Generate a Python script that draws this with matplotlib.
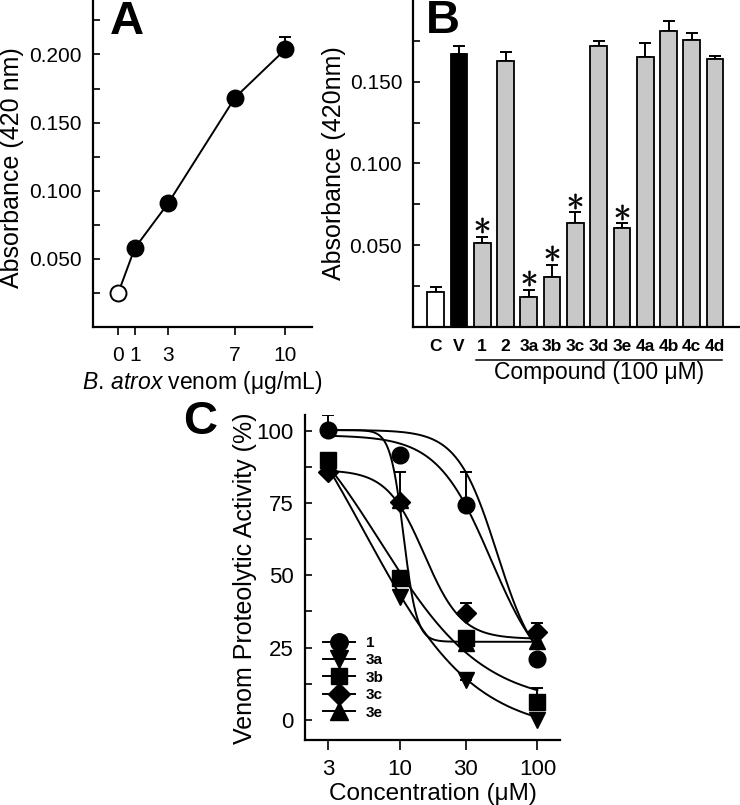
import numpy as np
import matplotlib
matplotlib.use('Agg')
import matplotlib.pyplot as plt
from matplotlib.lines import Line2D
from matplotlib.transforms import blended_transform_factory

plt.rcParams['font.family'] = ['Liberation Sans', 'DejaVu Sans']
plt.rcParams['mathtext.fontset'] = 'custom'
plt.rcParams['mathtext.rm'] = 'Liberation Sans'
plt.rcParams['mathtext.it'] = 'Liberation Sans:italic'
plt.rcParams['mathtext.bf'] = 'Liberation Sans:bold'

# ---------------- data ----------------
# Panel A
venom_dose = [0, 1, 3, 7, 10]
venom_abs = [0.0247, 0.0579, 0.0909, 0.1684, 0.2037]
venom_err = [0.0, 0.0, 0.0, 0.0, 0.009]
venom_is_control = [True, False, False, False, False]

# Panel B
groups = ['C', 'V', '1', '2', '3a', '3b', '3c', '3d', '3e', '4a', '4b', '4c', '4d']
group_abs = [0.0210, 0.1667, 0.0512, 0.1628, 0.0184, 0.0306, 0.0632,
             0.1718, 0.0602, 0.1652, 0.1812, 0.1758, 0.1638]
group_err = [0.0035, 0.0051, 0.0039, 0.0056, 0.0040, 0.0071, 0.0068,
             0.0031, 0.0030, 0.0082, 0.0059, 0.0037, 0.0021]
group_sig = [False, False, True, False, True, True, True, False, True,
             False, False, False, False]

# Panel C
conc = [3, 10, 30, 100]
act_1 = [100.2, 91.6, 74.3, 21.0]
err_1 = [5.3, 0.0, 11.3, 0.0]
act_3a = [87.0, 42.6, 13.8, 0.0]
err_3a = [0.0, 0.0, 2.3, 0.0]
act_3b = [89.9, 49.0, 28.2, 6.3]
err_3b = [0.0, 0.0, 0.0, 4.7]
act_3c = [85.9, 75.5, 36.9, 30.5]
err_3c = [0.0, 10.4, 3.4, 2.9]
act_3e = [88.0, 76.0, 26.5, 27.1]
err_3e = [0.0, 0.0, 0.0, 0.0]

# fitted 4-parameter logistic curves: top, bottom, IC50, Hill
fit_names = ['1', '1b', '3a', '3b', '3c', '3e']
fit_top = [98.5, 100.3, 135.0, 118.0, 86.5, 100.3]
fit_bottom = [12.0, 15.0, -5.0, 5.0, 28.0, 27.0]
fit_ic50 = [46.1, 50.9, 5.5, 7.2, 15.0, 10.6]
fit_hill = [2.2, 3.0, 1.08, 1.15, 3.2, 9.0]

# ---------------- figure ----------------
W, H = 740, 805
fig = plt.figure(figsize=(W / 100, H / 100), dpi=100)


def ax_px(l, t, r, b):
    return fig.add_axes([l / W, 1 - b / H, (r - l) / W, (b - t) / H])


def style_axes(ax):
    for s in ['top', 'right']:
        ax.spines[s].set_visible(False)
    for s in ['left', 'bottom']:
        ax.spines[s].set_linewidth(1.6)


TICK_FS = 15
LABEL_FS = 18
LETTER_FS = 34

# ---------- Panel A ----------
axA = ax_px(93, 0, 312, 327)
style_axes(axA)
axA.plot(venom_dose, venom_abs, color='k', lw=1.4, zorder=2)
axA.errorbar(venom_dose, venom_abs, yerr=[np.zeros(len(venom_err)), venom_err],
             fmt='none', ecolor='k', elinewidth=1.4, capsize=4.5, capthick=1.4, zorder=1)
for x, y, ctrl in zip(venom_dose, venom_abs, venom_is_control):
    axA.plot(x, y, 'o', ms=11.5, mfc='white' if ctrl else 'black', mec='k',
             mew=1.4, zorder=3)
axA.set_xlim(-1.5, 11.6)
axA.set_ylim(0, 0.24)
axA.set_xticks(venom_dose)
axA.set_xticklabels([str(v) for v in venom_dose])
axA.set_yticks([0.05, 0.10, 0.15, 0.20])
axA.set_yticklabels(['0.050', '0.100', '0.150', '0.200'])
axA.set_yticks([0.025, 0.075, 0.125, 0.175, 0.225], minor=True)
axA.tick_params(axis='y', which='both', direction='in', length=5, width=1.2,
                labelsize=TICK_FS, pad=8)
axA.tick_params(axis='x', direction='out', length=6, width=1.2,
                labelsize=TICK_FS, pad=8)
axA.set_ylabel('Absorbance (420 nm)', fontsize=LABEL_FS, va='center')
axA.yaxis.set_label_coords(-0.37, 0.486)
axA.set_xlabel(r'$\mathit{B.\,atrox}$ venom (μg/mL)', fontsize=16.5, va='center')
axA.xaxis.set_label_coords(0.498, -0.171)
fig.text(127 / W, 1 - 22 / H, 'A', fontsize=LETTER_FS, fontweight='bold',
         ha='center', va='center')

# ---------- Panel B ----------
axB = ax_px(413.3, 0, 740, 326.7)
style_axes(axB)
xb = np.arange(len(groups))
bar_colors = ['white', 'black'] + ['#c8c8c8'] * (len(groups) - 2)
axB.bar(xb, group_abs, width=0.72, color=bar_colors, edgecolor='k', linewidth=1.3, zorder=2)
axB.errorbar(xb, group_abs, yerr=[np.zeros(len(group_err)), group_err], fmt='none',
             ecolor='k', elinewidth=1.4, capsize=4, capthick=1.4, zorder=1)
sig_x = [i for i, s in enumerate(group_sig) if s]
sig_y = [group_abs[i] + group_err[i] + 0.0072 for i in sig_x]
axB.plot(sig_x, sig_y, linestyle='none', marker=r'$\ast$', ms=11, color='k', mew=0.4)
axB.set_xlim(-0.96, 13.07)
axB.set_ylim(0, 0.2)
axB.set_xticks(xb)
axB.set_xticklabels(groups, fontweight='bold', fontsize=12.5)
axB.tick_params(axis='x', length=0, pad=9)
axB.set_yticks([0.05, 0.10, 0.15])
axB.set_yticklabels(['0.050', '0.100', '0.150'])
axB.set_yticks([0.025, 0.075, 0.125, 0.175], minor=True)
axB.tick_params(axis='y', which='both', direction='in', length=5, width=1.2,
                labelsize=TICK_FS, pad=8)
axB.set_ylabel('Absorbance (420nm)', fontsize=LABEL_FS, va='center')
axB.yaxis.set_label_coords(-0.243, 0.501)
trB = blended_transform_factory(axB.transData, axB.transAxes)
axB.plot([1.72, 12.28], [-0.102, -0.102], transform=trB, color='k', lw=1.1, clip_on=False)
axB.text(0.568, -0.139, 'Compound (100 μM)', transform=axB.transAxes, ha='center',
         va='center', fontsize=16.5)
fig.text(443 / W, 1 - 21 / H, 'B', fontsize=LETTER_FS, fontweight='bold',
         ha='center', va='center')

# ---------- Panel C ----------
axC = ax_px(305, 415, 560, 740)
style_axes(axC)
axC.set_xscale('log')
xs = np.logspace(np.log10(3), np.log10(100), 300)
for top, bot, ic, h in zip(fit_top, fit_bottom, fit_ic50, fit_hill):
    axC.plot(xs, bot + (top - bot) / (1 + (xs / ic) ** h), color='k', lw=1.4, zorder=2)

series = [
    ('3e', act_3e, err_3e, '^'),
    ('3a', act_3a, err_3a, 'v'),
    ('1', act_1, err_1, 'o'),
    ('3b', act_3b, err_3b, 's'),
    ('3c', act_3c, err_3c, 'D'),
]
msizes = {'o': 12, 'v': 12, 's': 11, 'D': 10.5, '^': 12}
handles = {}
for z, (name, vals, errs, mk) in enumerate(series):
    ex = [c for c, e in zip(conc, errs) if e > 0]
    ey = [v for v, e in zip(vals, errs) if e > 0]
    ee = [e for e in errs if e > 0]
    if ex:
        axC.errorbar(ex, ey, yerr=[np.zeros(len(ee)), ee], fmt='none', ecolor='k',
                     elinewidth=1.4, capsize=4.5, capthick=1.4, zorder=3 + z)
    axC.plot(conc, vals, linestyle='none', marker=mk, ms=msizes[mk], color='k',
             zorder=4 + z, clip_on=False)
    handles[name] = Line2D([], [], color='k', lw=1.4, marker=mk, ms=msizes[mk] * 1.05)

order = ['1', '3a', '3b', '3c', '3e']
leg = axC.legend([handles[n] for n in order], order, loc='lower left',
                 bbox_to_anchor=(0.03, 0.03), frameon=False, handlelength=2.1,
                 handletextpad=0.7, labelspacing=0.22, borderpad=0.2,
                 prop={'weight': 'bold', 'size': 11})

axC.set_xlim(2.03, 146)
axC.set_ylim(-7, 105.5)
axC.set_xticks(conc)
axC.set_xticklabels([str(c) for c in conc])
axC.xaxis.set_minor_locator(matplotlib.ticker.NullLocator())
axC.set_yticks([0, 25, 50, 75, 100])
axC.set_yticks([12.5, 37.5, 62.5, 87.5], minor=True)
axC.tick_params(axis='y', which='both', direction='in', length=5, width=1.2,
                labelsize=16, pad=8)
axC.tick_params(axis='x', which='major', direction='out', length=7, width=1.2,
                labelsize=16, pad=7)
axC.set_ylabel('Venom Proteolytic Activity (%)', fontsize=LABEL_FS, va='center')
axC.yaxis.set_label_coords(-0.235, 0.498)
axC.set_xlabel('Concentration (μM)', fontsize=17.5, va='center')
axC.xaxis.set_label_coords(0.5, -0.165)
fig.text(200 / W, 1 - 422 / H, 'C', fontsize=LETTER_FS, fontweight='bold',
         ha='center', va='center')

fig.savefig('out.png', dpi=100)
